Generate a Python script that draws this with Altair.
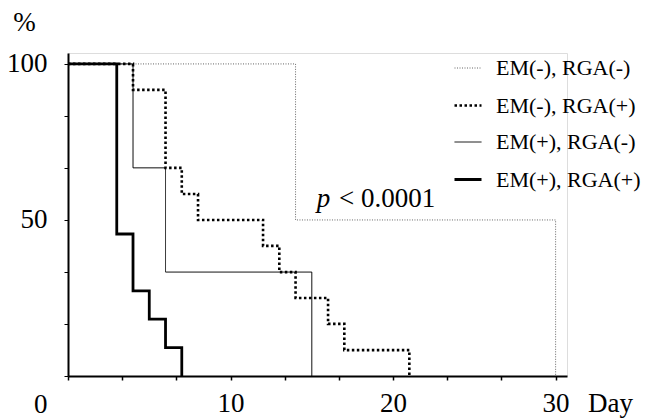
import altair as alt
import pandas as pd

groups = ["EM(-), RGA(-)", "EM(-), RGA(+)", "EM(+), RGA(-)", "EM(+), RGA(+)"]

days_1 = [0, 14, 30]
surv_1 = [100, 50, 0]
days_2 = [0, 4, 6, 7, 8, 12, 13, 14, 16, 17, 21]
surv_2 = [100, 91.7, 66.7, 58.3, 50, 41.7, 33.3, 25, 16.7, 8.3, 0]
days_3 = [0, 4, 6, 15]
surv_3 = [100, 66.7, 33.3, 0]
days_4 = [0, 3, 4, 5, 6, 7]
surv_4 = [100, 45.5, 27.3, 18.2, 9.1, 0]

colors = ["#666666", "#000000", "#000000", "#000000"]
dashes = [[1, 1.5], [2.5, 2.5], [1, 0], [1, 0]]
widths = [1, 2.6, 1, 2.8]

x_ticks = [0, 10 / 3, 20 / 3, 10, 40 / 3, 50 / 3, 20, 70 / 3, 80 / 3, 30]
y_ticks = [0, 50 / 3, 100 / 3, 50, 200 / 3, 250 / 3, 100]

rows = []
for g, ds, ss in zip(groups, [days_1, days_2, days_3, days_4], [surv_1, surv_2, surv_3, surv_4]):
    for i, (d, s) in enumerate(zip(ds, ss)):
        rows.append({"group": g, "day": d, "surv": s, "idx": i})
df = pd.DataFrame(rows)

FONT = "Liberation Serif"

x_enc = alt.X(
    "day:Q",
    scale=alt.Scale(domain=[0, 30.7], nice=False, zero=False),
    axis=alt.Axis(
        values=x_ticks,
        labelExpr="abs(datum.value % 10) < 0.01 && datum.value > 0 ? datum.label : ''",
        title="Day",
        titleX=542,
        titleY=27,
        titleAlign="center",
        titleBaseline="middle",
        titleFontSize=27,
        titleFontWeight="normal",
        titleFont=FONT,
        titleColor="black",
        labelFontSize=27,
        labelFont=FONT,
        labelColor="black",
        labelBaseline="middle",
        labelPadding=23,
        labelFlush=False,
        labelOverlap=False,
        tickSize=4,
        tickColor="black",
        tickWidth=1.5,
        domainColor="black",
        domainWidth=2,
        grid=False,
    ),
)

y_enc = alt.Y(
    "surv:Q",
    scale=alt.Scale(domain=[0, 103.5], nice=False),
    axis=alt.Axis(
        values=y_ticks,
        labelExpr="datum.value == 0 || datum.value == 50 || datum.value == 100 ? datum.label : ''",
        labelOffset={"condition": {"test": "datum.value == 0", "value": 28}, "value": 0},
        title="%",
        titleAngle=0,
        titleX=-44,
        titleY=-31,
        titleAlign="center",
        titleBaseline="middle",
        titleFontSize=27,
        titleFontWeight="normal",
        titleFont=FONT,
        titleColor="black",
        labelFontSize=27,
        labelFont=FONT,
        labelColor="black",
        labelBaseline="middle",
        labelPadding=17,
        labelFlush=False,
        labelOverlap=False,
        tickSize=4,
        tickColor="black",
        tickWidth=1,
        domainColor="black",
        domainWidth=2,
        grid=False,
    ),
)

legend_common = dict(
    orient="none",
    legendX=385,
    legendY=1,
    title=None,
    symbolType="stroke",
    symbolSize=729,
    labelFontSize=22,
    labelFont=FONT,
    labelColor="black",
    labelOffset=13,
    rowPadding=11.5,
    padding=0,
)

lines = alt.Chart(df).mark_line(interpolate="step-after").encode(
    x=x_enc,
    y=y_enc,
    color=alt.Color("group:N", scale=alt.Scale(domain=groups, range=colors), legend=alt.Legend(**legend_common)),
    strokeDash=alt.StrokeDash("group:N", scale=alt.Scale(domain=groups, range=dashes), legend=alt.Legend(**legend_common)),
    strokeWidth=alt.StrokeWidth("group:N", scale=alt.Scale(type="ordinal", domain=groups, range=widths), legend=alt.Legend(**legend_common)),
    order="idx:Q",
)

p_italic = alt.Chart().mark_text(
    text="p", font=FONT, fontSize=27, fontStyle="italic", align="left", baseline="alphabetic", color="black"
).encode(x=alt.datum(15.3), y=alt.datum(54.2))

p_rest = alt.Chart().mark_text(
    text="< 0.0001", font=FONT, fontSize=27, align="left", baseline="alphabetic", color="black"
).encode(x=alt.datum(16.68), y=alt.datum(54.2))

chart = alt.layer(lines, p_italic, p_rest).properties(
    width=499,
    height=323,
    autosize=alt.AutoSizeParams(type="none"),
    padding={"left": 60, "top": 45, "right": 75, "bottom": 42},
).configure_view(stroke=None).configure(background="white")

chart.save("out.html", embed_options={"renderer": "svg", "actions": False})
